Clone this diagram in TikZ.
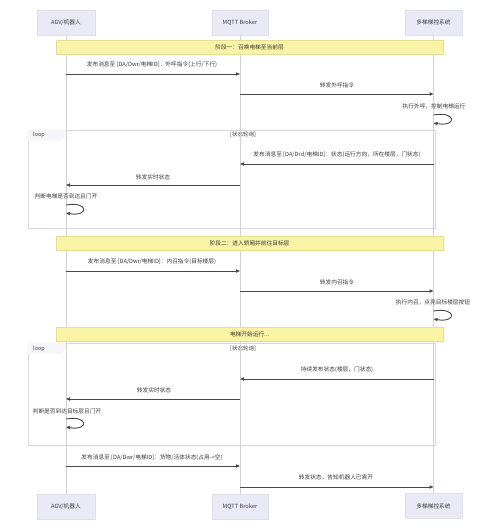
\documentclass[tikz,border=0pt]{standalone}
\usepackage{fontspec}
\setmainfont{Noto Sans CJK SC}
\usetikzlibrary{arrows.meta}
\definecolor{actfill}{RGB}{234,234,246}
\definecolor{actdraw}{RGB}{222,222,238}
\definecolor{notefill}{RGB}{248,243,165}
\definecolor{notedraw}{RGB}{226,222,150}
\definecolor{lifec}{RGB}{208,208,214}
\definecolor{msgc}{RGB}{72,72,72}
\definecolor{txtc}{RGB}{60,60,60}
\definecolor{loopc}{RGB}{214,214,222}
\definecolor{loopfill}{RGB}{246,246,250}
\begin{document}
\begin{tikzpicture}[x=1pt,y=-1pt,
  actor/.style={draw=actdraw,fill=actfill,minimum height=25pt,inner sep=0pt,font=\fontsize{5.7}{7}\selectfont,text=txtc},
  notebox/.style={draw=notedraw,fill=notefill,minimum width=387pt,minimum height=14pt,inner sep=0pt,font=\fontsize{5.7}{7}\selectfont,text=txtc},
  loopbox/.style={draw=loopc,line width=0.8pt,minimum width=407pt,inner sep=0pt},
  looplbl/.style={font=\fontsize{5.5}{7}\selectfont,text=txtc,inner sep=0pt},
  life/.style={draw=lifec,line width=0.8pt},
  msg/.style={draw=msgc,line width=0.9pt,-{Triangle[length=4pt,width=3.2pt]}},
  lbl/.style={font=\fontsize{5.7}{7}\selectfont,text=txtc,inner sep=0pt}]
\useasboundingbox (0,0) rectangle (500,531);
\fill[white] (0,0) rectangle (500,531);

% actors
\node[actor,minimum width=58pt] (agvT) at (66,22.5) {AGV/机器人};
\node[actor,minimum width=56pt] (mqT) at (240,22.5) {MQTT Broker};
\node[actor,minimum width=57pt] (elT) at (433.5,22.5) {多梯梯控系统};
\node[actor,minimum width=58pt] (agvB) at (66,507) {AGV/机器人};
\node[actor,minimum width=56pt] (mqB) at (240,507) {MQTT Broker};
\node[actor,minimum width=57pt] (elB) at (433.5,506) {多梯梯控系统};

% loop frames (behind lifelines)
\node[loopbox,minimum height=98pt] (L1) at (231.5,179) {};
\node[loopbox,minimum height=102pt] (L2) at (231.5,394) {};
\fill[loopfill] (L1.north west) -- ++(38,0) -- ++(0,7) -- ++(-4,4) -- ++(-34,0) -- cycle;
\fill[loopfill] (L2.north west) -- ++(38,0) -- ++(0,7) -- ++(-4,4) -- ++(-34,0) -- cycle;
\node[looplbl,anchor=west] (L1a) at (33,134.5) {loop};
\node[looplbl] (L1b) at (243,134.5) {[状态轮询]};
\node[looplbl,anchor=west] (L2a) at (33,349) {loop};
\node[looplbl] (L2b) at (243,349) {[状态轮询]};

% lifelines
\draw[life] (agvT.south) -- (agvB.north);
\draw[life] (mqT.south) -- (mqB.north);
\draw[life] (elT.south) -- (elB.north);

% notes
\node[notebox] (n1) at (249.5,47) {阶段一：召唤电梯至当前层};
\node[notebox] (n2) at (249.5,243) {阶段二：进入轿厢并前往目标层};
\node[notebox] (n3) at (249.5,334) {电梯开始运行...};

% stage 1
\node[lbl] (t1) at (152,65) {发布消息至 [DA/Dwr/电梯ID]：外呼指令(上行/下行)};
\draw[msg] (agvT |- 0,74) -- (mqT |- 0,74);
\node[lbl] (t2) at (337,85) {转发外呼指令};
\draw[msg] (mqT |- 0,94) -- (elT |- 0,94);
\node[lbl] (t3) at (434,106) {执行外呼，控制电梯运行};
\coordinate (s1a) at (433.5,115);
\coordinate (s1b) at (433.5,123);
\draw[msg] (s1a) .. controls (457,111) and (457,127) .. (s1b);

% loop 1
\node[lbl] (t4) at (337,155) {发布消息至 [DA/Drd/电梯ID]：状态(运行方向，所在楼层，门状态)};
\draw[msg] (elT |- 0,164) -- (mqT |- 0,164);
\node[lbl] (t5) at (153,177) {转发实时状态};
\draw[msg] (mqT |- 0,185) -- (agvT |- 0,185);
\node[lbl] (t6) at (66,196) {判断电梯是否到达且门开};
\coordinate (s2a) at (66,205);
\coordinate (s2b) at (66,213);
\draw[msg] (s2a) .. controls (89,201) and (89,217) .. (s2b);

% stage 2
\node[lbl] (t7) at (152,261.5) {发布消息至 [DA/Dwr/电梯ID]：内召指令(目标楼层)};
\draw[msg] (agvT |- 0,271) -- (mqT |- 0,271);
\node[lbl] (t8) at (337,282) {转发内召指令};
\draw[msg] (mqT |- 0,291) -- (elT |- 0,291);
\node[lbl] (t9) at (433,302) {执行内召，点亮目标楼层按钮};
\coordinate (s3a) at (433.5,311);
\coordinate (s3b) at (433.5,319);
\draw[msg] (s3a) .. controls (457,307) and (457,323) .. (s3b);

% loop 2
\node[lbl] (t10) at (337,370) {持续发布状态(楼层，门状态)};
\draw[msg] (elT |- 0,379) -- (mqT |- 0,379);
\node[lbl] (t11) at (154,390) {转发实时状态};
\draw[msg] (mqT |- 0,399) -- (agvT |- 0,399);
\node[lbl] (t12) at (67,411) {判断是否到达目标层且门开};
\coordinate (s4a) at (66,419);
\coordinate (s4b) at (66,427);
\draw[msg] (s4a) .. controls (89,415) and (89,431) .. (s4b);

% leaving
\node[lbl] (t13) at (152,457.5) {发布消息至 [DA/Dwr/电梯ID]：货物/活体状态(占用->空)};
\draw[msg] (agvT |- 0,466) -- (mqT |- 0,466);
\node[lbl] (t14) at (336,477.5) {转发状态，告知机器人已离开};
\draw[msg] (mqT |- 0,487) -- (elT |- 0,487);
\end{tikzpicture}
\end{document}
